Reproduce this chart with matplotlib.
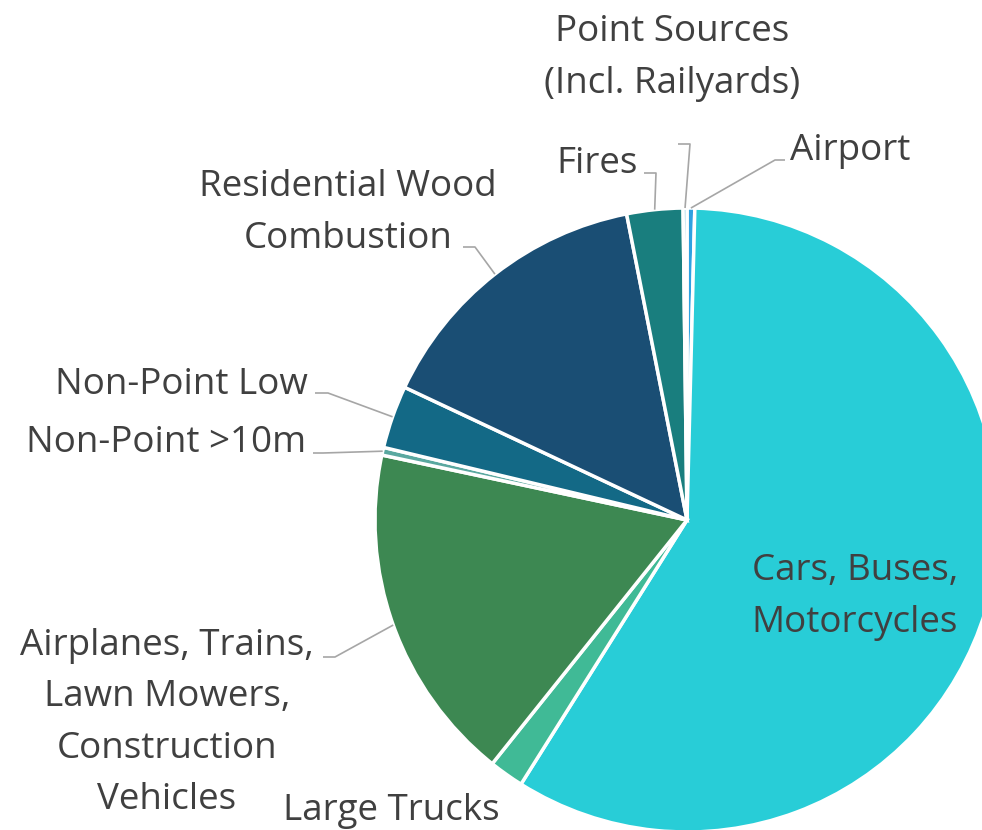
import matplotlib
matplotlib.use("Agg")
import matplotlib.pyplot as plt
import numpy as np

# slice shares (percent), clockwise from 12 o'clock
labels = ["Airport", "Cars, Buses,\nMotorcycles", "Large Trucks",
          "Airplanes, Trains,\nLawn Mowers,\nConstruction\nVehicles",
          "Non-Point >10m", "Non-Point Low", "Residential Wood\nCombustion",
          "Fires", "Point Sources\n(Incl. Railyards)"]
shares = [0.4, 58.5, 1.8, 17.6, 0.4, 3.25, 14.9, 2.9, 0.2]
colors = ["#2FA1E0", "#28CDD7", "#40BA96", "#3D8852", "#5AA8A0",
          "#136986", "#1A4E74", "#197E7E", "#52B5D5"]

W, H = 982, 830
CX, CY, R = 687, 520, 312

def px(x, y):
    # pixel position -> data units (pie radius = 1)
    return (x - CX) / R, (CY - y) / R

plt.rcParams['font.family'] = ['Open Sans', 'DejaVu Sans']
fig = plt.figure(figsize=(W / 100, H / 100), dpi=100)
ax = fig.add_axes([0, 0, 1, 1])
wedges, _ = ax.pie(shares, colors=colors, startangle=90, counterclock=False,
                   radius=1, wedgeprops=dict(edgecolor="white", linewidth=2.5))
ax.set_xlim(px(0, 0)[0], px(W, 0)[0])
ax.set_ylim(px(0, H)[1], px(0, 0)[1])
ax.set_aspect('auto')
ax.axis('off')

txt = "#404040"
fs = 26.5
# text layout: (x px, y px, ha)
layout = {
    0: (790, 151, "left"),
    1: (855, 597, "center"),
    2: (283, 811, "left"),
    3: (167, 723, "center"),
    4: (306, 443, "right"),
    5: (308, 385, "right"),
    6: (348, 213, "center"),
    7: (597, 164, "center"),
    8: (672, 58, "center"),
}
for i, (x, y, ha) in layout.items():
    tx, ty = px(x, y)
    ax.text(tx, ty, labels[i], ha=ha, va="center", multialignment="center",
            fontsize=fs, color=txt, linespacing=1.56)

# leader lines: elbow segments near the label, then to wedge rim
leaders = {
    8: [(678, 144), (690, 144)],
    0: [(785, 160), (775, 160)],
    7: [(644, 173), (656, 173)],
    6: [(463, 247), (475, 247)],
    5: [(315, 393), (328, 393)],
    4: [(313, 453), (323, 453)],
    3: [(323, 657), (335, 657)],
}
for i, pts in leaders.items():
    w = wedges[i]
    mid = np.deg2rad((w.theta1 + w.theta2) / 2)
    ex, ey = np.cos(mid), np.sin(mid)
    xs = [px(*p)[0] for p in pts] + [ex]
    ys = [px(*p)[1] for p in pts] + [ey]
    ax.plot(xs, ys, color="#A6A6A6", lw=1.2, solid_capstyle="butt")

fig.savefig("out.png", dpi=100)
